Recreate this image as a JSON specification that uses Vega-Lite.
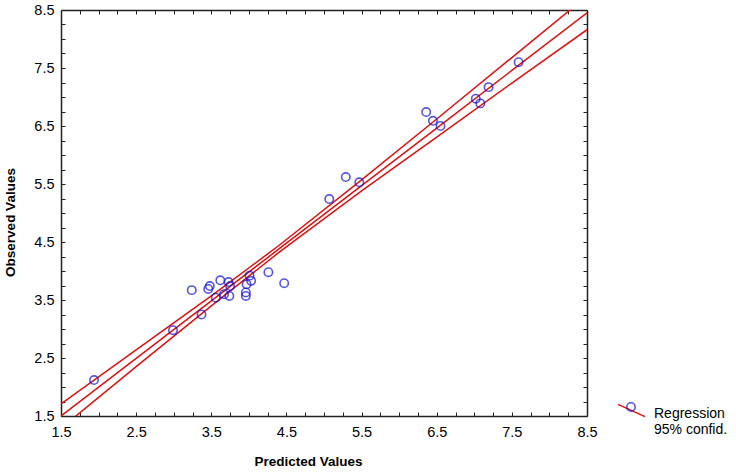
{
  "$schema": "https://vega.github.io/schema/vega-lite/v6.json",
  "autosize": {"type": "none"},
  "width": 526,
  "height": 406,
  "padding": {"left": 61, "top": 10, "right": 149, "bottom": 57},
  "background": "white",
  "config": {
    "font": "Liberation Sans",
    "view": {"stroke": null},
    "axis": {
      "grid": false,
      "domainColor": "#222",
      "domainWidth": 1.5,
      "tickColor": "#222",
      "tickWidth": 1,
      "tickSize": -4,
      "labelFont": "Liberation Sans",
      "labelFontSize": 14.5,
      "labelColor": "#000",
      "labelOverlap": false,
      "labelFlush": false,
      "labelBound": false,
      "titleFont": "Liberation Sans",
      "titleFontSize": 13.5,
      "titleFontWeight": "bold",
      "titleColor": "#000",
      "zindex": 1
    },
    "legend": {"labelFont": "Liberation Sans", "labelFontSize": 14, "labelColor": "#000"}
  },
  "datasets": {
    "pts": [
      {"pred": 1.94, "obs": 2.12},
      {"pred": 2.99, "obs": 2.98},
      {"pred": 3.37, "obs": 3.25},
      {"pred": 3.24, "obs": 3.67},
      {"pred": 3.46, "obs": 3.69},
      {"pred": 3.48, "obs": 3.74},
      {"pred": 3.62, "obs": 3.84},
      {"pred": 3.56, "obs": 3.54},
      {"pred": 3.67, "obs": 3.60},
      {"pred": 3.73, "obs": 3.81},
      {"pred": 3.75, "obs": 3.74},
      {"pred": 3.74, "obs": 3.57},
      {"pred": 3.97, "obs": 3.77},
      {"pred": 3.96, "obs": 3.63},
      {"pred": 3.96, "obs": 3.57},
      {"pred": 4.01, "obs": 3.92},
      {"pred": 4.03, "obs": 3.83},
      {"pred": 4.26, "obs": 3.98},
      {"pred": 4.47, "obs": 3.79},
      {"pred": 5.07, "obs": 5.24},
      {"pred": 5.29, "obs": 5.62},
      {"pred": 5.47, "obs": 5.53},
      {"pred": 6.36, "obs": 6.74},
      {"pred": 6.45, "obs": 6.59},
      {"pred": 6.55, "obs": 6.50},
      {"pred": 7.02, "obs": 6.97},
      {"pred": 7.08, "obs": 6.89},
      {"pred": 7.19, "obs": 7.17},
      {"pred": 7.59, "obs": 7.60}
    ],
    "lines": [
      {"band": "fit", "pred": 1.5, "obs": 1.5},
      {"band": "fit", "pred": 2.5, "obs": 2.493},
      {"band": "fit", "pred": 3.5, "obs": 3.486},
      {"band": "fit", "pred": 4.4, "obs": 4.38},
      {"band": "fit", "pred": 5.5, "obs": 5.472},
      {"band": "fit", "pred": 6.5, "obs": 6.465},
      {"band": "fit", "pred": 7.5, "obs": 7.458},
      {"band": "fit", "pred": 8.5, "obs": 8.451},
      {"band": "upper", "pred": 1.5, "obs": 1.71},
      {"band": "upper", "pred": 2.5, "obs": 2.64},
      {"band": "upper", "pred": 3.5, "obs": 3.57},
      {"band": "upper", "pred": 4.4, "obs": 4.44},
      {"band": "upper", "pred": 5.5, "obs": 5.57},
      {"band": "upper", "pred": 6.5, "obs": 6.62},
      {"band": "upper", "pred": 7.5, "obs": 7.68},
      {"band": "upper", "pred": 8.5, "obs": 8.74},
      {"band": "lower", "pred": 1.5, "obs": 1.29},
      {"band": "lower", "pred": 2.5, "obs": 2.35},
      {"band": "lower", "pred": 3.5, "obs": 3.40},
      {"band": "lower", "pred": 4.4, "obs": 4.32},
      {"band": "lower", "pred": 5.5, "obs": 5.38},
      {"band": "lower", "pred": 6.5, "obs": 6.31},
      {"band": "lower", "pred": 7.5, "obs": 7.24},
      {"band": "lower", "pred": 8.5, "obs": 8.16}
    ]
  },
  "layer": [
    {
      "data": {"name": "lines"},
      "mark": {"type": "line", "clip": true, "strokeWidth": 1.5},
      "encoding": {
        "x": {
          "field": "pred", "type": "quantitative",
          "scale": {"domain": [1.5, 8.5], "nice": false, "zero": false},
          "axis": {
            "orient": "bottom",
            "title": "Predicted Values",
            "values": [1.5,1.75,2,2.25,2.5,2.75,3,3.25,3.5,3.75,4,4.25,4.5,4.75,5,5.25,5.5,5.75,6,6.25,6.5,6.75,7,7.25,7.5,7.75,8,8.25,8.5],
            "labelExpr": "round(datum.value*4) % 4 == 2 ? format(datum.value, '.1f') : ''",
            "labelPadding": 13,
            "titleX": 247,
            "titleY": 45,
            "titleBaseline": "middle"
          }
        },
        "y": {
          "field": "obs", "type": "quantitative",
          "scale": {"domain": [1.5, 8.5], "nice": false, "zero": false},
          "axis": {
            "orient": "left",
            "title": "Observed Values",
            "values": [1.5,1.75,2,2.25,2.5,2.75,3,3.25,3.5,3.75,4,4.25,4.5,4.75,5,5.25,5.5,5.75,6,6.25,6.5,6.75,7,7.25,7.5,7.75,8,8.25,8.5],
            "labelExpr": "round(datum.value*4) % 4 == 2 ? format(datum.value, '.1f') : ''",
            "labelPadding": 11,
            "titleX": -51,
            "titleY": 212,
            "titleBaseline": "middle"
          }
        },
        "detail": {"field": "band"},
        "stroke": {
          "datum": "line",
          "scale": {"range": ["#e01010"]},
          "legend": {
            "orient": "none",
            "legendX": 556,
            "legendY": 386,
            "title": null,
            "symbolType": "M-1,-0.45L1,0.45",
            "symbolSize": 729,
            "symbolStrokeWidth": 1.5,
            "labelExpr": "''"
          }
        }
      }
    },
    {
      "data": {"name": "pts"},
      "mark": {"type": "point", "shape": "circle", "filled": false, "stroke": "#1010d0", "strokeWidth": 1.6, "size": 70},
      "encoding": {
        "x": {
          "field": "pred", "type": "quantitative",
          "axis": {
            "orient": "top", "title": null, "labels": false,
            "values": [1.5,1.75,2,2.25,2.5,2.75,3,3.25,3.5,3.75,4,4.25,4.5,4.75,5,5.25,5.5,5.75,6,6.25,6.5,6.75,7,7.25,7.5,7.75,8,8.25,8.5]
          }
        },
        "y": {
          "field": "obs", "type": "quantitative",
          "axis": {
            "orient": "right", "title": null, "labels": false,
            "values": [1.5,1.75,2,2.25,2.5,2.75,3,3.25,3.5,3.75,4,4.25,4.5,4.75,5,5.25,5.5,5.75,6,6.25,6.5,6.75,7,7.25,7.5,7.75,8,8.25,8.5]
          }
        },
        "shape": {
          "datum": "Regression",
          "scale": {"range": ["circle"]},
          "legend": {
            "orient": "none",
            "legendX": 563,
            "legendY": 390,
            "title": null,
            "symbolType": "M-1,0.72A1,1 0 1,0 1,0.72A1,1 0 1,0 -1,0.72Z",
            "symbolSize": 70,
            "symbolStrokeColor": "#1010d0",
            "symbolFillColor": "white",
            "symbolStrokeWidth": 1.6,
            "labelOffset": 16,
            "labelBaseline": "top",
            "labelExpr": "['Regression', '95% confid.']"
          }
        }
      }
    }
  ],
  "resolve": {"axis": {"x": "independent", "y": "independent"}, "legend": {"stroke": "independent", "shape": "independent"}}
}
